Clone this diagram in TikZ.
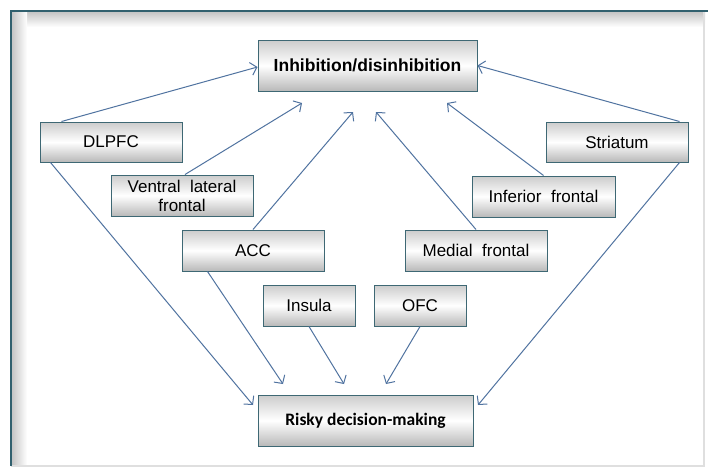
\documentclass[tikz,border=0pt]{standalone}
\usepackage{fontspec}
\setmainfont{Liberation Sans}
\newfontfamily\calibfont{Carlito}
\usetikzlibrary{arrows.meta}
\definecolor{cadre}{RGB}{49,96,110}
\definecolor{bord}{RGB}{62,104,116}
\definecolor{fleche}{RGB}{80,115,160}

\begin{document}
\begin{tikzpicture}[x=1pt,y=-1pt,
  boite/.style={draw=bord,line width=1pt,top color=gray!40,bottom color=gray!55,middle color=white,inner sep=0pt,align=center,font=\fontsize{17}{20}\selectfont},
  fl/.style={draw=fleche,line width=1pt,-{Straight Barb[length=6pt,width=13pt]}}]
\useasboundingbox (0,0) rectangle (708,472);

\fill[white] (11,11) rectangle (705,466);
\fill[top color=gray!45,bottom color=white] (12,12) rectangle (705,27);
\fill[left color=gray!45,right color=white] (12,12) rectangle (27,466);
\draw[gray!25,line width=1.5pt] (704,12) -- (704,466) -- (11,466);
\draw[cadre,line width=2pt] (11,466) -- (11,11) -- (708,11);

\node[boite,minimum width=219pt,minimum height=51pt,font=\fontsize{17.5}{20}\selectfont\bfseries] (inh) at (367.5,65.5) {Inhibition/disinhibition};
\node[boite,minimum width=215pt,minimum height=51pt,font=\fontsize{17.5}{20}\selectfont\calibfont\bfseries] (risk) at (365.5,420.5) {Risky decision-making};

\node[boite,minimum width=142pt,minimum height=40pt] (dlpfc) at (111,142) {DLPFC};
\node[boite,minimum width=142pt,minimum height=41pt] (vlf) at (182,195.5) {Ventral\ \ lateral\\[-1pt]frontal};
\node[boite,minimum width=142pt,minimum height=41pt] (acc) at (253,250.5) {ACC};
\node[boite,minimum width=92pt,minimum height=41pt] (insula) at (309,305.5) {Insula};
\node[boite,minimum width=92pt,minimum height=41pt] (ofc) at (420,305.5) {OFC};
\node[boite,minimum width=142pt,minimum height=41pt] (medf) at (476,250.5) {Medial\ \ frontal};
\node[boite,minimum width=143pt,minimum height=41pt] (inff) at (543.5,196.5) {Inferior\ \ frontal};
\node[boite,minimum width=142pt,minimum height=40pt] (stri) at (617,142) {Striatum};

\coordinate (vlfend) at (302,103);
\coordinate (accend) at (353,112);
\coordinate (medfend) at (376,112);
\coordinate (inffend) at (447,103);
\coordinate (dlpfcbas) at (253,405);
\coordinate (accbas) at (283,384);
\coordinate (insulabas) at (344,384);
\coordinate (ofcbas) at (386,384);
\coordinate (stribas) at (478,405);

\draw[fl] ([xshift=22pt]dlpfc.north west) -- ([yshift=-1.5pt]inh.west);
\draw[fl] ([xshift=3pt]vlf.north) -- (vlfend);
\draw[fl] (acc.north) -- (accend);
\draw[fl] (medf.north) -- (medfend);
\draw[fl] (inff.north) -- (inffend);
\draw[fl] ([xshift=-9pt]stri.north east) -- (inh.east);

\draw[fl] ([xshift=11pt]dlpfc.south west) -- (dlpfcbas);
\draw[fl] ([xshift=26pt]acc.south west) -- (accbas);
\draw[fl] (insula.south) -- (insulabas);
\draw[fl] (ofc.south) -- (ofcbas);
\draw[fl] ([xshift=-9pt]stri.south east) -- (stribas);
\end{tikzpicture}
\end{document}
